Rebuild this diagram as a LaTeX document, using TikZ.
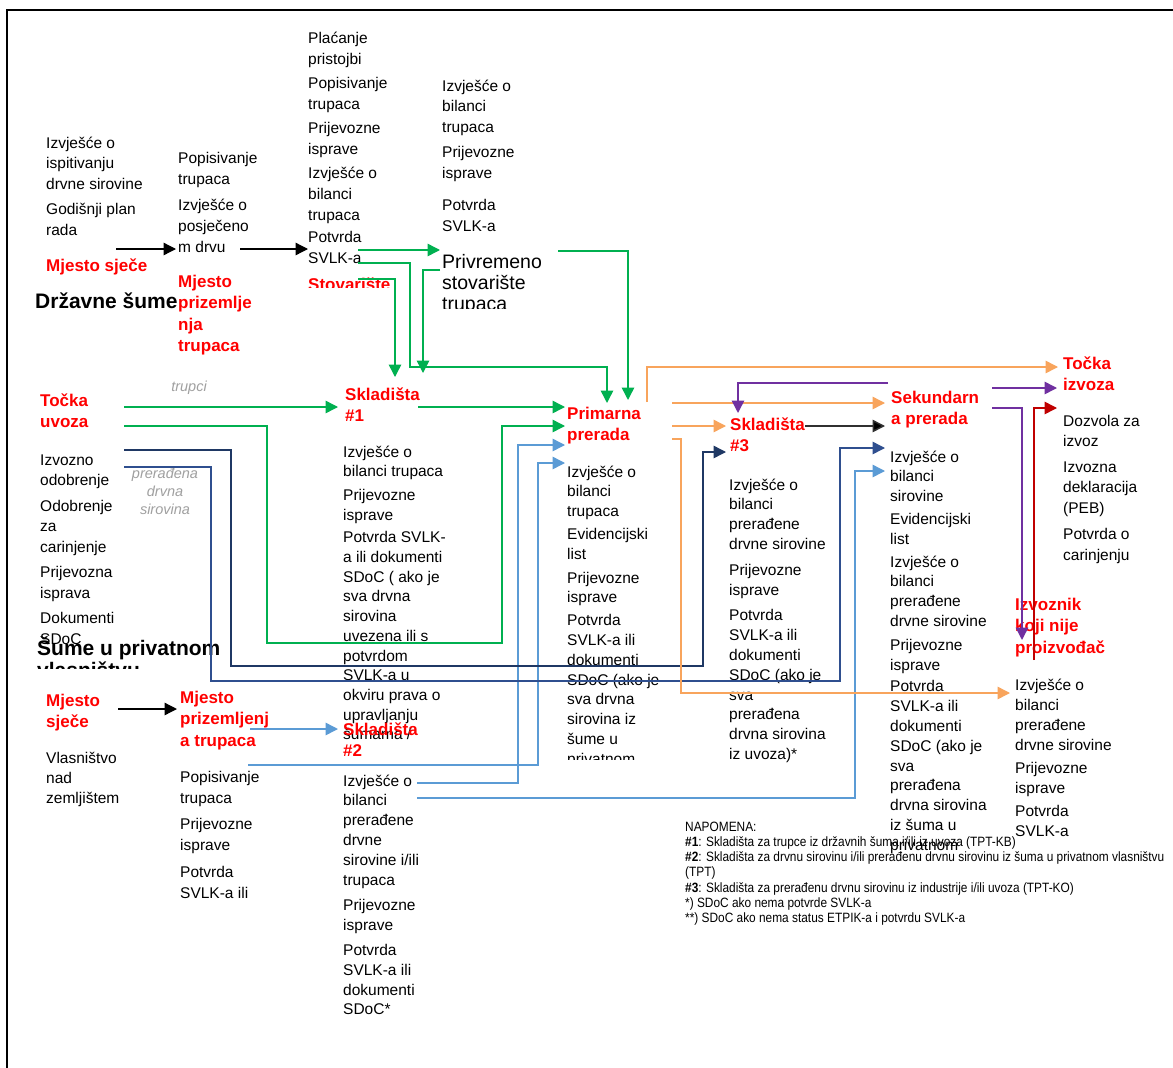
\documentclass[tikz,border=0pt]{standalone}
\usepackage{fontspec}
\setmainfont{Liberation Sans}
\newfontfamily\narrowfont[FakeStretch=0.88]{Liberation Sans}
\usetikzlibrary{arrows.meta}
\definecolor{cgreen}{HTML}{00B050}
\definecolor{cblue}{HTML}{5B9BD5}
\definecolor{cnavy}{HTML}{1F3864}
\definecolor{cnavyb}{HTML}{2F4F8F}
\definecolor{corange}{HTML}{F8A45C}
\definecolor{cpurple}{HTML}{7030A0}
\definecolor{cdred}{HTML}{C00000}
\definecolor{cred}{HTML}{FF0000}
\definecolor{cgrey}{HTML}{A0A0A0}
\definecolor{cdark}{HTML}{303030}
\newcommand\blk[1]{\begin{tabular}[t]{@{}l@{}}#1\end{tabular}}
\begin{document}
\begin{tikzpicture}[x=1pt,y=-1pt,
  txt/.style={anchor=base west, inner sep=0pt, font=\fontsize{15.5}{20}\selectfont},
  txtw/.style={anchor=base west, inner sep=0pt, font=\fontsize{15.5}{21}\selectfont},
  lbl/.style={anchor=base west, inner sep=0pt, text=cred, font=\bfseries\fontsize{17}{21.5}\selectfont},
  ttl/.style={anchor=base west, inner sep=0pt, font=\bfseries\fontsize{21}{22}\selectfont},
  gnote/.style={anchor=base, inner sep=0pt, text=cgrey, font=\itshape\fontsize{14.5}{18}\selectfont},
  conn/.style={line width=1.5pt, -{Triangle[length=12.5pt,width=12.5pt]}},
  plain/.style={line width=1.5pt}]
\useasboundingbox (0,0) rectangle (1173,1068);
\fill[white] (0,0) rectangle (1173,1068);
% frame
\draw[line width=2pt] (7,1068) -- (7,10) -- (1173,10);

% ---------- Drzavne sume ----------
\node[txt, font=\fontsize{15.5}{20.5}\selectfont] (A) at (46,148)
  {\blk{Izvješće o\\ispitivanju\\drvne sirovine\\[5pt]Godišnji plan\\rada}};
\node[lbl] (msj1) at (46,271) {Mjesto sječe};
\node[ttl] (ds) at (35,308) {Državne šume};
\node[txtw] (B) at (178,163)
  {\blk{Popisivanje\\trupaca\\[5pt]Izvješće o\\posječeno\\m drvu}};
\node[lbl] (mp1) at (178,287) {\blk{Mjesto\\prizemlje\\nja\\trupaca}};
\node[txtw] (C) at (308,43)
  {\blk{Plaćanje\\pristojbi\\[3pt]Popisivanje\\trupaca\\[3pt]Prijevozne\\isprave\\[3pt]Izvješće o\\bilanci\\trupaca\\[1pt]Potvrda\\SVLK-a}};
\begin{scope}
  \clip (300,260) rectangle (400,287);
  \node[lbl] (stov) at (308,290) {Stovarište};
\end{scope}
\node[txt, font=\fontsize{15.5}{20.5}\selectfont] (D) at (442,91)
  {\blk{Izvješće o\\bilanci\\trupaca\\[5pt]Prijevozne\\isprave\\[12pt]Potvrda\\SVLK-a}};
\begin{scope}
  \clip (430,240) rectangle (560,308);
  \node[anchor=base west, inner sep=0pt, font=\fontsize{19.5}{21}\selectfont] (priv) at (442,268)
    {\blk{Privremeno\\stovarište\\trupaca}};
\end{scope}

% ---------- Skladista #1 ----------
\begin{scope}
  \clip (330,430) rectangle (470,746);
  \node[txt, font=\fontsize{15.5}{19.7}\selectfont] (E) at (343,457)
    {\blk{Izvješće o\\bilanci trupaca\\[4pt]Prijevozne\\isprave\\[3pt]Potvrda SVLK-\\a ili dokumenti\\SDoC ( ako je\\sva drvna\\sirovina\\uvezena ili s\\potvrdom\\SVLK-a u\\okviru prava o\\upravljanju\\šumama /}};
\end{scope}
\node[lbl] (s1) at (345,400) {\blk{Skladišta\\\#1}};
\node[lbl] (s2) at (343,735) {\blk{Skladišta\\\#2}};

% ---------- Primarna ----------
\node[lbl] (pp) at (567,419) {\blk{Primarna\\prerada}};
\begin{scope}
  \clip (555,450) rectangle (700,759);
  \node[txt, font=\fontsize{15.5}{19.8}\selectfont] (F) at (567,477)
    {\blk{Izvješće o\\bilanci\\trupaca\\[3pt]Evidencijski\\list\\[4pt]Prijevozne\\isprave\\[3pt]Potvrda\\SVLK-a ili\\dokumenti\\SDoC (ako je\\sva drvna\\sirovina iz\\šume u\\privatnom}};
\end{scope}

% ---------- Skladista #3 ----------
\node[lbl] (s3) at (730,430) {\blk{Skladišta\\\#3}};
\node[txt, font=\fontsize{15.5}{19.8}\selectfont] (J) at (729,490)
  {\blk{Izvješće o\\bilanci\\prerađene\\drvne sirovine\\[6pt]Prijevozne\\isprave\\[6pt]Potvrda\\SVLK-a ili\\dokumenti\\SDoC (ako je\\sva\\prerađena\\drvna sirovina\\iz uvoza)*}};

% ---------- Sekundarna ----------
\node[lbl] (sp) at (891,403) {\blk{Sekundarn\\a prerada}};
\begin{scope}
  \clip (880,440) rectangle (1010,857);
  \node[txt, font=\fontsize{15.5}{19.8}\selectfont] (K) at (890,462)
    {\blk{Izvješće o\\bilanci\\sirovine\\[3pt]Evidencijski\\list\\[3pt]Izvješće o\\bilanci\\prerađene\\drvne sirovine\\[4pt]Prijevozne\\isprave\\[2pt]Potvrda\\SVLK-a ili\\dokumenti\\SDoC (ako je\\sva\\prerađena\\drvna sirovina\\iz šuma u\\privatnom}};
\end{scope}

% ---------- Tocka izvoza ----------
\node[lbl] (ti) at (1063,369) {\blk{Točka\\izvoza}};
\node[txt, font=\fontsize{15.5}{20.5}\selectfont] (L) at (1063,426)
  {\blk{Dozvola za\\izvoz\\[5pt]Izvozna\\deklaracija\\(PEB)\\[6pt]Potvrda o\\carinjenju}};
\node[lbl] (izv) at (1015,610) {\blk{Izvoznik\\koji nije\\proizvođač}};
\node[txt, font=\fontsize{15.5}{20}\selectfont] (M) at (1015,690)
  {\blk{Izvješće o\\bilanci\\prerađene\\drvne sirovine\\[3pt]Prijevozne\\isprave\\[3pt]Potvrda\\SVLK-a}};

% ---------- Tocka uvoza ----------
\node[lbl] (tu) at (40,406) {\blk{Točka\\uvoza}};
\node[txt, font=\fontsize{15.5}{20.5}\selectfont] (G) at (40,465)
  {\blk{Izvozno\\odobrenje\\[5pt]Odobrenje\\za\\carinjenje\\[5pt]Prijevozna\\isprava\\[5pt]Dokumenti\\SDoC}};
\node[gnote] (trupci) at (189,391) {trupci};
\node[gnote] (prer) at (165,478) {\begin{tabular}[t]{@{}c@{}}prerađena\\drvna\\sirovina\end{tabular}};

% ---------- Sume u privatnom vlasnistvu ----------
\begin{scope}
  \clip (20,620) rectangle (270,668);
  \node[ttl] (spv) at (37,655) {\blk{Šume u privatnom\\vlasništvu}};
\end{scope}
\node[lbl] (msj2) at (46,706) {\blk{Mjesto\\sječe}};
\node[txt] (vl) at (46,763) {\blk{Vlasništvo\\nad\\zemljištem}};
\node[lbl] (mp2) at (180,703) {\blk{Mjesto\\prizemljenj\\a trupaca}};
\node[txtw] (H) at (180,782)
  {\blk{Popisivanje\\trupaca\\[5pt]Prijevozne\\isprave\\[6pt]Potvrda\\SVLK-a ili}};
\begin{scope}
  \clip (330,765) rectangle (470,1016);
  \node[txt, font=\fontsize{15.5}{19.8}\selectfont] (I) at (343,786)
    {\blk{Izvješće o\\bilanci\\prerađene\\drvne\\sirovine i/ili\\trupaca\\[6pt]Prijevozne\\isprave\\[5pt]Potvrda\\SVLK-a ili\\dokumenti\\SDoC*}};
\end{scope}

% ---------- Napomena ----------
\node[anchor=base west, inner sep=0pt, font=\narrowfont\fontsize{13.5}{15.3}\selectfont] (nap) at (685,831)
  {\blk{NAPOMENA:\\\textbf{\#1}: Skladišta za trupce iz državnih šuma i/ili iz uvoza (TPT-KB)\\\textbf{\#2}: Skladišta za drvnu sirovinu i/ili prerađenu drvnu sirovinu iz šuma u privatnom vlasništvu\\(TPT)\\\textbf{\#3}: Skladišta za prerađenu drvnu sirovinu iz industrije i/ili uvoza (TPT-KO)\\\relax *) SDoC ako nema potvrde SVLK-a\\\relax **) SDoC ako nema status ETPIK-a i potvrdu SVLK-a}};

% ---------- connector end points ----------
\coordinate (k1s) at (116,249); \coordinate (k1e) at (176,249);
\coordinate (k2s) at (240,249); \coordinate (k2e) at (308,249);
\coordinate (k3s) at (118,709); \coordinate (k3e) at (177,709);
\coordinate (g1s) at (358,250); \coordinate (g1e) at (440,250);
\coordinate (g2s) at (358,263); \coordinate (g2e) at (607,403);
\coordinate (g3s) at (358,279); \coordinate (g3e) at (395,377);
\coordinate (g4s) at (440,270); \coordinate (g4e) at (423,373);
\coordinate (g5s) at (558,251); \coordinate (g5e) at (628,400);
\coordinate (g6s) at (124,407); \coordinate (g6e) at (338,407);
\coordinate (g7s) at (418,407); \coordinate (g7e) at (565,407);
\coordinate (g8s) at (124,426); \coordinate (g8e) at (565,426);
\coordinate (b1s) at (250,729); \coordinate (b1e) at (338,729);
\coordinate (b2s) at (248,765); \coordinate (b2e) at (565,463);
\coordinate (b3s) at (417,783); \coordinate (b3e) at (565,445);
\coordinate (b4s) at (417,798); \coordinate (b4e) at (885,471);
\coordinate (n1s) at (124,450); \coordinate (n1e) at (726,452);
\coordinate (n2s) at (124,467); \coordinate (n2e) at (885,448);
\coordinate (o1s) at (647,402); \coordinate (o1e) at (1058,367);
\coordinate (o2s) at (672,403); \coordinate (o2e) at (885,403);
\coordinate (o3s) at (672,426); \coordinate (o3e) at (726,426);
\coordinate (o4s) at (672,439); \coordinate (o4e) at (1010,693);
\coordinate (d1s) at (805,426); \coordinate (d1e) at (885,426);
\coordinate (p1s) at (888,383); \coordinate (p1e) at (738,413);
\coordinate (p2s) at (992,388); \coordinate (p2e) at (1057,388);
\coordinate (p3s) at (992,408); \coordinate (p3e) at (1022,640);
\coordinate (r1s) at (1034,660); \coordinate (r1e) at (1057,408);

% ---------- connectors ----------
\draw[conn, black, line width=1.3pt] (k1s) -- (k1e);
\draw[conn, black, line width=1.3pt] (k2s) -- (k2e);
\draw[conn, black, line width=1.3pt] (k3s) -- (k3e);

\draw[conn, cgreen] (g1s) -- (g1e);
\draw[conn, cgreen] (g2s) -- (410,263) -- (410,367) -- (607,367) -- (g2e);
\draw[conn, cgreen] (g3s) -- (395,279) -- (g3e);
\draw[conn, cgreen] (g4s) -- (423,270) -- (g4e);
\draw[conn, cgreen] (g5s) -- (628,251) -- (g5e);
\draw[conn, cgreen] (g6s) -- (g6e);
\draw[conn, cgreen] (g7s) -- (g7e);
\draw[conn, cgreen] (g8s) -- (267,426) -- (267,643) -- (502,643) -- (502,426) -- (g8e);

\draw[conn, cblue] (b1s) -- (b1e);
\draw[conn, cblue] (b2s) -- (538,765) -- (538,463) -- (b2e);
\draw[conn, cblue] (b3s) -- (518,783) -- (518,445) -- (b3e);
\draw[conn, cblue] (b4s) -- (855,798) -- (855,471) -- (b4e);

\draw[conn, cnavy] (n1s) -- (231,450) -- (231,666) -- (703,666) -- (703,452) -- (n1e);
\draw[conn, cnavyb] (n2s) -- (211,467) -- (211,681) -- (840,681) -- (840,448) -- (n2e);

\draw[conn, corange] (o1s) -- (647,367) -- (o1e);
\draw[conn, corange] (o2s) -- (o2e);
\draw[conn, corange] (o3s) -- (o3e);
\draw[conn, corange] (o4s) -- (681,439) -- (681,693) -- (o4e);

\draw[line width=1.5pt, cdark, -{Triangle[length=12.5pt,width=12.5pt,fill=black]}] (d1s) -- (d1e);

\draw[conn, cpurple] (p1s) -- (738,383) -- (p1e);
\draw[conn, cpurple] (p2s) -- (p2e);
\draw[conn, cpurple] (p3s) -- (1022,408) -- (p3e);

\draw[conn, cdred] (r1s) -- (1034,408) -- (r1e);
\end{tikzpicture}
\end{document}
